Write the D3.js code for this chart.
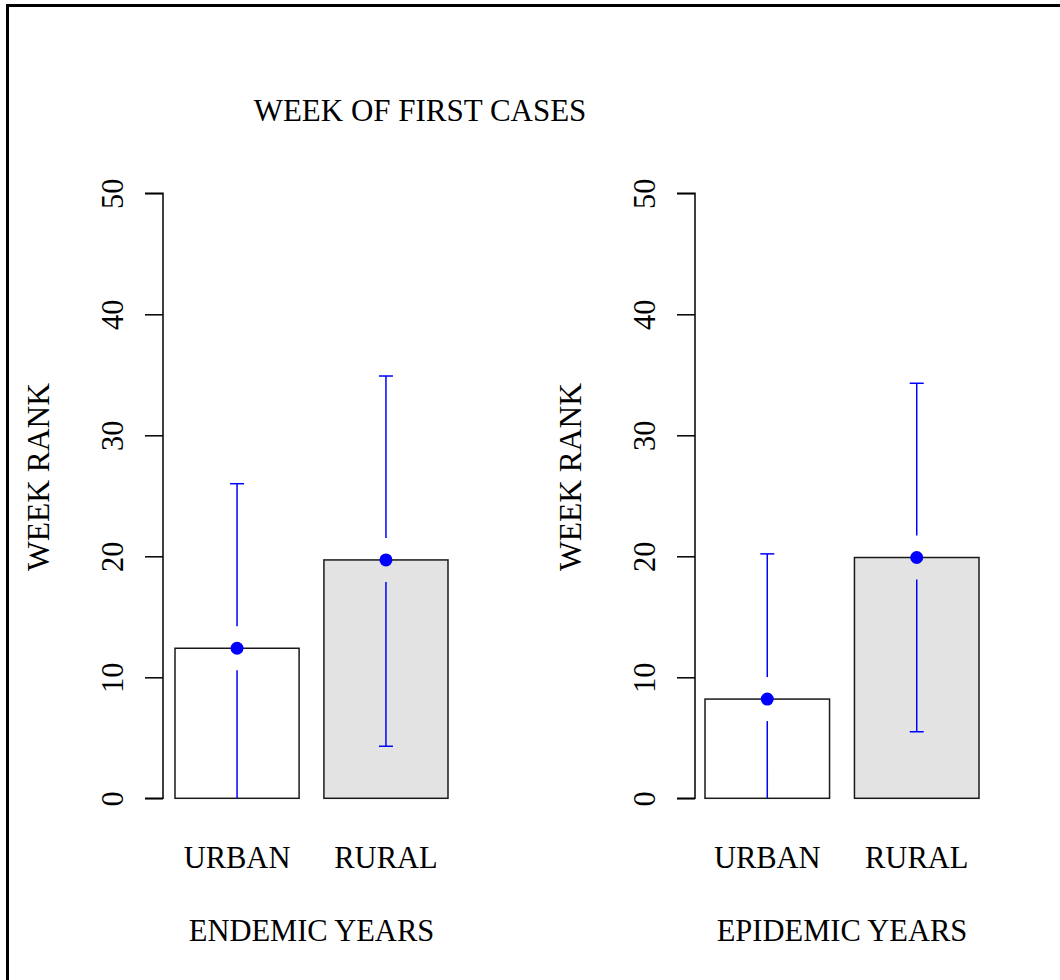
<!DOCTYPE html>
<html>
<head>
<meta charset="utf-8">
<script src="https://cdn.jsdelivr.net/npm/d3@7"></script>
<style>
  html, body { margin: 0; padding: 0; background: #fff; }
  svg { display: block; }
  text { font-family: "Liberation Serif", "Times New Roman", serif; fill: #000; }
</style>
</head>
<body>
<svg id="chart" width="1060" height="980"></svg>
<script>
// Week rank of the first cases, mean with error bars, by area type
const categories = ["URBAN", "RURAL"];
const panelTitles = ["ENDEMIC YEARS", "EPIDEMIC YEARS"];
const endemicMean = [12.4, 19.7];
const endemicLower = [-1.2, 4.3];
const endemicUpper = [26.0, 34.9];
const epidemicMean = [8.2, 19.9];
const epidemicLower = [-3.7, 5.5];
const epidemicUpper = [20.2, 34.3];
const barFills = ["#ffffff", "#e3e3e3"];
const yTicks = [0, 10, 20, 30, 40, 50];

const panels = [
  { title: panelTitles[0], mean: endemicMean, lower: endemicLower, upper: endemicUpper, left: 175, right: 448, axisX: 163 },
  { title: panelTitles[1], mean: epidemicMean, lower: epidemicLower, upper: epidemicUpper, left: 705, right: 979, axisX: 695 }
];

const svg = d3.select("#chart");
const FONT = 30.5;
const yTop = 193.3, yBottom = 798.3;

// outer frame
svg.append("rect")
  .attr("x", 7.5).attr("y", 5.5)
  .attr("width", 1100).attr("height", 1100)
  .attr("fill", "none").attr("stroke", "#000").attr("stroke-width", 3);

svg.append("text")
  .attr("x", 420).attr("y", 121)
  .attr("text-anchor", "middle")
  .attr("font-size", 31)
  .text("WEEK OF FIRST CASES");

const y = d3.scaleLinear().domain([0, 50]).range([yBottom, yTop]);

svg.append("defs").append("clipPath").attr("id", "plotclip")
  .append("rect").attr("x", 0).attr("y", yTop - 40).attr("width", 1060).attr("height", yBottom - yTop + 40);

panels.forEach((p, pi) => {
  const g = svg.append("g");
  const x = d3.scaleBand().domain(categories).range([p.left, p.right])
    .paddingInner(1 / 6).paddingOuter(0);

  // y axis
  const axis = d3.axisLeft(y).tickValues(yTicks).tickSize(18).tickPadding(0).tickFormat(d3.format("d"));
  const ag = g.append("g").attr("transform", `translate(${p.axisX},0)`).call(axis);
  ag.select(".domain").attr("d", `M-18,${y(50)}H0V${y(0)}H-18`).attr("stroke", "#000").attr("stroke-width", 1.5).attr("fill", "none");
  ag.selectAll(".tick line").attr("stroke", "#000").attr("stroke-width", 1.5);
  ag.selectAll(".tick text")
    .attr("font-size", FONT)
    .attr("font-family", "Liberation Serif, serif")
    .attr("fill", "#000")
    .attr("text-anchor", "middle")
    .attr("x", null).attr("dy", null)
    .attr("transform", "translate(-40,0) rotate(-90)");

  // axis title
  g.append("text")
    .attr("transform", `translate(${p.axisX - 114},477) rotate(-90)`)
    .attr("text-anchor", "middle")
    .attr("font-size", 31.5)
    .text("WEEK RANK");

  // bars
  g.selectAll("rect.bar").data(categories).join("rect")
    .attr("class", "bar")
    .attr("x", d => x(d))
    .attr("width", x.bandwidth())
    .attr("y", (d, i) => y(p.mean[i]))
    .attr("height", (d, i) => y(0) - y(p.mean[i]))
    .attr("fill", (d, i) => barFills[i])
    .attr("stroke", "#1a1a1a").attr("stroke-width", 1.5);

  // error bars, broken around the mean point
  const eg = g.append("g").attr("clip-path", "url(#plotclip)");
  const gap = 22, cap = 7;
  categories.forEach((c, i) => {
    const cx = x(c) + x.bandwidth() / 2;
    const ym = y(p.mean[i]), yu = y(p.upper[i]), yl = y(p.lower[i]);
    const segs = [[yu, ym - gap], [ym + gap, yl]];
    segs.forEach(([a, b]) => {
      if (b > a) eg.append("line").attr("x1", cx).attr("x2", cx).attr("y1", a).attr("y2", b)
        .attr("stroke", "#0000ff").attr("stroke-width", 1.5);
    });
    [yu, yl].forEach(v => {
      eg.append("line").attr("x1", cx - cap).attr("x2", cx + cap).attr("y1", v).attr("y2", v)
        .attr("stroke", "#0000ff").attr("stroke-width", 1.5);
    });
    g.append("circle").attr("cx", cx).attr("cy", ym).attr("r", 6.5).attr("fill", "#0000ff");
  });

  // category labels
  g.selectAll("text.cat").data(categories).join("text")
    .attr("class", "cat")
    .attr("x", d => x(d) + x.bandwidth() / 2)
    .attr("y", 868)
    .attr("text-anchor", "middle")
    .attr("font-size", FONT)
    .text(d => d);

  // panel title under the categories
  g.append("text")
    .attr("x", (p.left + p.right) / 2)
    .attr("y", 941)
    .attr("text-anchor", "middle")
    .attr("font-size", FONT)
    .text(p.title);
});
</script>
</body>
</html>
